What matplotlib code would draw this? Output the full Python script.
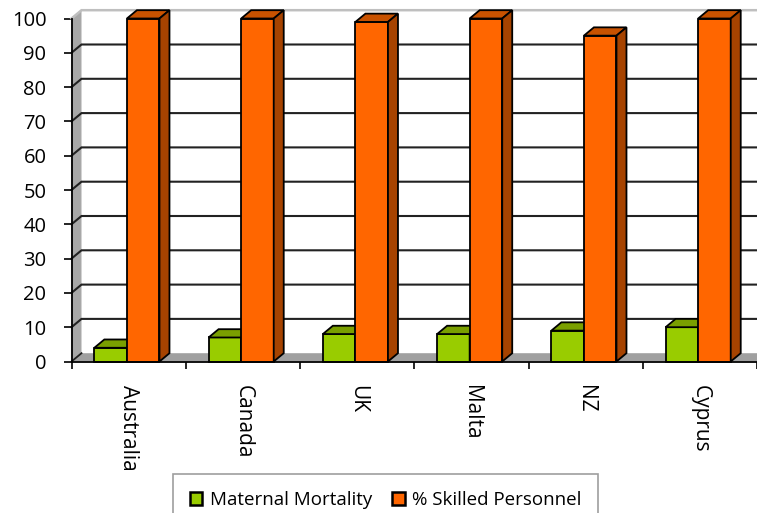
import matplotlib
matplotlib.use("Agg")
import matplotlib.pyplot as plt
from matplotlib.patches import Polygon, Patch
import numpy as np

plt.rcParams['font.family'] = ['Open Sans', 'DejaVu Sans']

categories = ["Australia", "Canada", "UK", "Malta", "NZ", "Cyprus"]
maternal_mortality = [4, 7, 8, 8, 9, 10]
skilled_personnel = [100, 100, 99, 100, 95, 100]
y_ticks = [0, 10, 20, 30, 40, 50, 60, 70, 80, 90, 100]
series_names = ["Maternal Mortality", "% Skilled Personnel"]

green_front, green_top, green_side = "#99CC00", "#7A9F00", "#668800"
orange_front, orange_top, orange_side = "#FF6600", "#C85200", "#A64300"

W, H = 757, 513
fig = plt.figure(figsize=(W / 100, H / 100), dpi=100)
left_px, right_px = 71.5, 757.0
y0_px, y100_px = 361.5, 18.5
ax = fig.add_axes([left_px / W, 1 - y0_px / H, (right_px - left_px) / W, (y0_px - y100_px) / H])
ax.set_xlim(-0.5, 5.5)
ax.set_ylim(0, 100)
ax.patch.set_alpha(0)

# depth offset in data units (10 px right, 8 px up)
px_x = (right_px - left_px) / 6.0
px_y = (y0_px - y100_px) / 100.0
dx = 10 / px_x
dy = 8.3 / px_y

xl, xr = -0.5, 5.5 + 0.3

# left wall
ax.add_patch(Polygon([(xl, 0), (xl, 100), (xl + dx, 100 + dy), (xl + dx, dy)],
                     closed=True, facecolor="#A8A8A8", edgecolor="none", clip_on=False, zorder=1))
# floor
ax.add_patch(Polygon([(xl, 0), (xr, 0), (xr + dx, dy), (xl + dx, dy)],
                     closed=True, facecolor="#A0A0A0", edgecolor="none", clip_on=False, zorder=1))

# gridlines on back wall + diagonals on left wall
for v in y_ticks:
    if v == 0:
        ax.plot([xl, xl + dx], [0, dy], color="#222222", lw=1.3, clip_on=False, zorder=2)
        continue
    col = "#BFBFBF" if v == 100 else "#222222"
    ax.plot([xl, xl + dx, xr + dx], [v, v + dy, v + dy], color=col, lw=1.5 if v != 100 else 1.8,
            clip_on=False, zorder=2, solid_joinstyle="miter")

w = 0.285
off = -0.015
x = np.arange(len(categories))


def bar3d(x0, v, front, top, side, z):
    x1 = x0 + w
    ax.bar(x0, v, width=w, align="edge", color=front, edgecolor="black", linewidth=1.3,
           zorder=z, clip_on=False)
    ax.add_patch(Polygon([(x0, v), (x1, v), (x1 + dx, v + dy), (x0 + dx, v + dy)], closed=True,
                         facecolor=top, edgecolor="black", linewidth=1.3, clip_on=False, zorder=z))
    ax.add_patch(Polygon([(x1, 0), (x1, v), (x1 + dx, v + dy), (x1 + dx, dy)], closed=True,
                         facecolor=side, edgecolor="black", linewidth=1.3, clip_on=False, zorder=z))


z = 3
for i in range(len(categories)):
    bar3d(x[i] - w + off, maternal_mortality[i], green_front, green_top, green_side, z)
    z += 1
    bar3d(x[i] + off, skilled_personnel[i], orange_front, orange_top, orange_side, z)
    z += 1

# axes styling
for s in ["top", "right"]:
    ax.spines[s].set_visible(False)
ax.spines["left"].set_color("black")
ax.spines["left"].set_linewidth(1.3)
ax.spines["bottom"].set_color("black")
ax.spines["bottom"].set_linewidth(1.3)
ax.spines["left"].set_zorder(50)
ax.spines["bottom"].set_zorder(50)

ax.set_yticks(y_ticks)
ax.set_yticklabels([str(v) for v in y_ticks])
ax.tick_params(axis="y", direction="out", length=6, width=1.2, pad=12, labelsize=14.5, colors="black")
ax.set_xticks(np.arange(-0.5, 6.0, 1.0))
ax.set_xticklabels([])
ax.set_xticks(x, minor=True)
ax.set_xticklabels(categories, minor=True, rotation=-90, fontsize=15, va="top", ha="center")
ax.tick_params(axis="x", which="major", direction="out", length=5, width=1.2)
ax.tick_params(axis="x", which="minor", length=0, pad=17)

handles = [Patch(facecolor=green_front, edgecolor="black", linewidth=1.8),
           Patch(facecolor=orange_front, edgecolor="black", linewidth=1.8)]
leg = fig.legend(handles, series_names, loc="upper left", bbox_to_anchor=(173 / W, 1 - 474 / H),
                 ncol=2, fontsize=13.5, frameon=True, fancybox=False, edgecolor="#868686",
                 handlelength=0.65, handleheight=0.65, handletextpad=0.4, columnspacing=1.1,
                 borderpad=0.9, borderaxespad=0)
leg.get_frame().set_linewidth(1.2)

fig.savefig("out.png", dpi=100)
